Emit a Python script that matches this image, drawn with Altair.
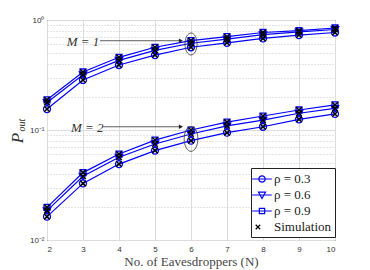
import altair as alt
import pandas as pd

N = [2, 3, 4, 5, 6, 7, 8, 9, 10]
rho_labels = ["ρ = 0.3", "ρ = 0.6", "ρ = 0.9"]
m1_r03 = [0.155, 0.285, 0.39, 0.48, 0.565, 0.62, 0.68, 0.73, 0.77]
m1_r06 = [0.178, 0.318, 0.43, 0.53, 0.615, 0.67, 0.735, 0.78, 0.82]
m1_r09 = [0.188, 0.337, 0.458, 0.565, 0.65, 0.705, 0.77, 0.80, 0.846]
m2_r03 = [0.0163, 0.0327, 0.049, 0.065, 0.080, 0.0946, 0.107, 0.125, 0.140]
m2_r06 = [0.0185, 0.038, 0.0565, 0.0746, 0.092, 0.109, 0.123, 0.142, 0.157]
m2_r09 = [0.0198, 0.041, 0.0605, 0.081, 0.100, 0.118, 0.134, 0.152, 0.169]
y_grid = [0.01, 0.02, 0.03, 0.04, 0.05, 0.06, 0.07, 0.08, 0.09,
          0.1, 0.2, 0.3, 0.4, 0.5, 0.6, 0.7, 0.8, 0.9, 1.0]

rows = []
for m, series in (("1", [m1_r03, m1_r06, m1_r09]), ("2", [m2_r03, m2_r06, m2_r09])):
    for lab, vals in zip(rho_labels, series):
        for n, v in zip(N, vals):
            rows.append({"N": n, "P": v, "M": m, "series": lab, "key": m + lab})
df = pd.DataFrame(rows)

BLUE = "#0000ff"
SERIF = "Liberation Serif"
CIRCLE = "M1,0A1,1,0,1,1,-1,0A1,1,0,1,1,1,0Z"
TRI = "M-1.05,-0.8L1.05,-0.8L0,1Z"
SQUARE = "M-0.85,-0.85L0.85,-0.85L0.85,0.85L-0.85,0.85Z"
XMARK = "M-1,-1L1,1M-1,1L1,-1"

LEG_CIRCLE = "M-1.4,0L1.4,0M0.45,0A0.45,0.45,0,1,1,-0.45,0A0.45,0.45,0,1,1,0.45,0Z"
LEG_TRI = "M-1.4,0L1.4,0M-0.5,-0.4L0.5,-0.4L0,0.5Z"
LEG_SQ = "M-1.4,0L1.4,0M-0.38,-0.38L0.38,-0.38L0.38,0.38L-0.38,0.38Z"
LEG_X = "M-0.9,-0.32L-0.26,0.32M-0.9,0.32L-0.26,-0.32"

xs = alt.Scale(domain=[2, 10], nice=False)
ys = alt.Scale(type="log", domain=[0.01, 1], nice=False)

x_axis = alt.Axis(values=N, title="No. of Eavesdroppers (N)", grid=True, labelOverlap=False,
                  gridColor="#dcdcdc", gridWidth=1, ticks=False, domain=False,
                  labelFont="Liberation Sans", labelFontSize=8, labelColor="#333333",
                  labelPadding=5, titleFont=SERIF, titleFontSize=13,
                  titleFontWeight="normal", titleColor="#444444", titlePadding=2)
y_axis = alt.Axis(values=y_grid, title=None, grid=True, ticks=False, domain=False, labelOverlap=False,
                  gridColor={"condition": {"test": "indexof([0.01,0.1,1], datum.value) >= 0", "value": "#dcdcdc"}, "value": "#c8c8c8"},
                  gridDash={"condition": {"test": "indexof([0.01,0.1,1], datum.value) >= 0", "value": []}, "value": [1, 2]},
                  labelExpr="datum.value == 1 ? '10⁰' : (abs(datum.value - 0.1) < 1e-9 ? '10⁻¹' : (abs(datum.value - 0.01) < 1e-9 ? '10⁻²' : ''))",
                  labelFont="Liberation Sans", labelFontSize=8, labelColor="#333333",
                  labelPadding=3)
x_enc = alt.X("N:Q", scale=xs, axis=x_axis)
y_enc = alt.Y("P:Q", scale=ys, axis=y_axis)

base = alt.Chart(df)
lines = base.mark_line(color=BLUE, strokeWidth=1.2).encode(x=x_enc, y=y_enc, detail="key:N")
theory = base.mark_point(filled=False, color=BLUE, strokeWidth=1.3, opacity=1, size=49).encode(
    x=x_enc, y=y_enc,
    shape=alt.Shape("series:N", scale=alt.Scale(domain=rho_labels, range=[CIRCLE, TRI, SQUARE]), legend=None))
sim = base.mark_point(shape=XMARK, filled=False, color="black", strokeWidth=1.5, opacity=1, size=30).encode(
    x=x_enc, y=y_enc)

leg_domain = rho_labels + ["Simulation"]
leg_df = pd.DataFrame({"series": leg_domain, "N": [2] * 4, "P": [0.5] * 4})
leg_props = dict(title=None, orient="none", legendX=204, legendY=148,
                 strokeColor="#222222", fillColor="white", padding=3,
                 symbolSize=196, symbolStrokeWidth=1.2, rowPadding=1,
                 labelFont=SERIF, labelFontSize=13, labelColor="#222222",
                 labelOffset=4)
legend_layer = alt.Chart(leg_df).mark_point(filled=False, strokeWidth=1.2, opacity=1).encode(
    x=x_enc, y=y_enc,
    shape=alt.Shape("series:N", scale=alt.Scale(domain=leg_domain, range=[LEG_CIRCLE, LEG_TRI, LEG_SQ, LEG_X]),
                    legend=alt.Legend(**leg_props)),
    color=alt.Color("series:N", scale=alt.Scale(domain=leg_domain, range=[BLUE, BLUE, BLUE, "black"]),
                    legend=alt.Legend(**leg_props)),
).transform_filter("false")

# annotations
ann_text = pd.DataFrame({"N": [3.0, 3.12], "P": [0.625, 0.104], "t": ["M = 1", "M = 2"]})
texts = alt.Chart(ann_text).mark_text(font=SERIF, fontStyle="italic", fontSize=13,
                                      color="#333333").encode(x=x_enc, y=y_enc, text="t:N")
arrows = pd.DataFrame({"N": [3.47, 3.56], "N2": [5.72, 5.72], "P": [0.648, 0.107]})
arrow_lines = alt.Chart(arrows).mark_rule(color="#333333", strokeWidth=0.8).encode(
    x=x_enc, x2="N2:Q", y=y_enc)
arrow_heads = alt.Chart(arrows).mark_point(shape="triangle-right", filled=True, color="#222222",
                                           size=22, opacity=1).encode(
    x=alt.X("N2:Q", scale=xs, axis=x_axis), y=y_enc)
ELLIPSE = "M0.55,0A0.55,1,0,1,1,-0.55,0A0.55,1,0,1,1,0.55,0Z"
ell = pd.DataFrame({"N": [6, 6], "P": [0.605, 0.083], "s": [484, 620]})
ellipses = alt.Chart(ell).mark_point(shape=ELLIPSE, filled=False, color="#333333",
                                     strokeWidth=0.8, opacity=1).encode(
    x=x_enc, y=y_enc, size=alt.Size("s:Q", scale=None, legend=None))

ytitle = pd.DataFrame({"t": ["P"]})
ptxt = alt.Chart(ytitle).mark_text(text="P", font=SERIF, fontStyle="italic", fontSize=17,
                                   angle=270, color="#333333").encode(x=alt.value(-29), y=alt.value(118))
otxt = alt.Chart(ytitle).mark_text(text="out", font=SERIF, fontStyle="italic", fontSize=10,
                                   angle=270, color="#333333").encode(x=alt.value(-25), y=alt.value(105))

chart = alt.layer(lines, theory, sim, legend_layer, arrow_lines, arrow_heads, ellipses, texts, ptxt, otxt).resolve_scale(
    shape="independent", color="independent", size="independent"
).properties(
    width=288, height=220,
    autosize=alt.AutoSizeParams(type="none"),
    padding={"left": 39, "top": 12, "right": 27, "bottom": 30},
).configure_view(stroke="#262626", strokeWidth=1)

chart.save("out.html", embed_options={"renderer": "svg", "actions": False})
